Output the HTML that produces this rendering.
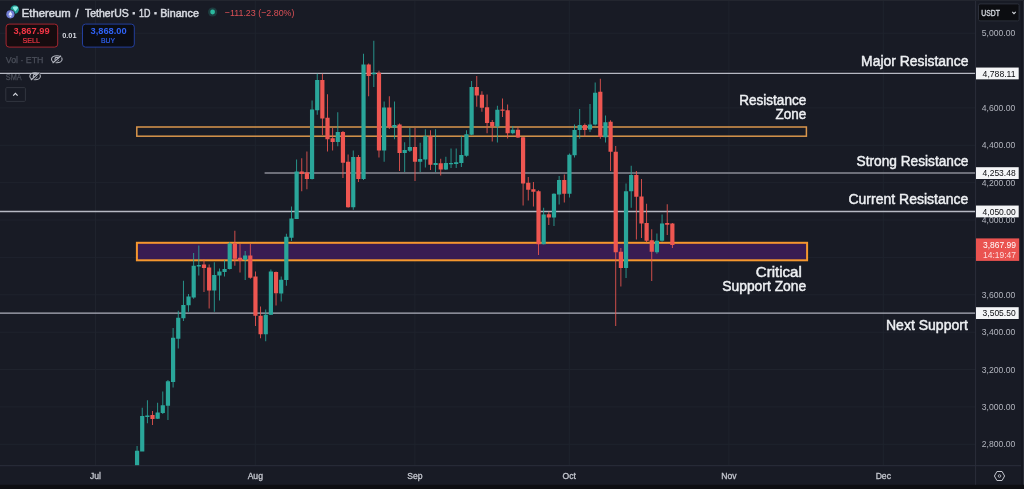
<!DOCTYPE html>
<html lang="en"><head><meta charset="utf-8"><title>Ethereum / TetherUS chart</title>
<style>
html,body{margin:0;padding:0;background:#181b25;}
body{width:1024px;height:489px;overflow:hidden;position:relative;font-family:"Liberation Sans",sans-serif;}
svg{position:absolute;left:0;top:0;display:block;}
text{font-family:"Liberation Sans",sans-serif;}
.grid path{stroke-width:1;fill:none;}
.g{fill:#2aa69a;}
.r{fill:#ee5651;}
.ax text{fill:#b2b5be;font-size:8.6px;}
.mo text{fill:#c4c7cf;font-size:8.6px;stroke:#c4c7cf;stroke-width:.3px;}
.ann text{fill:#eef0f3;font-size:14px;text-anchor:end;stroke:#eef0f3;stroke-width:.45px;}
.tag text{font-size:9.2px;fill:#0b0c10;}
</style></head>
<body>
<svg width="1024" height="489" viewBox="0 0 1024 489">
<rect width="1024" height="489" fill="#181b25"/>
<g class="grid"><path d="M0 33.2H975.6" stroke="#1f232d"/><path d="M0 70.6H975.6" stroke="#1f232d"/><path d="M0 107.9H975.6" stroke="#1f232d"/><path d="M0 145.3H975.6" stroke="#1f232d"/><path d="M0 182.7H975.6" stroke="#1f232d"/><path d="M0 220.1H975.6" stroke="#1f232d"/><path d="M0 257.4H975.6" stroke="#1f232d"/><path d="M0 294.8H975.6" stroke="#1f232d"/><path d="M0 332.2H975.6" stroke="#1f232d"/><path d="M0 369.5H975.6" stroke="#1f232d"/><path d="M0 406.9H975.6" stroke="#1f232d"/><path d="M0 444.3H975.6" stroke="#1f232d"/><path d="M95.5 0V465.7" stroke="#1f232d"/><path d="M255.3 0V465.7" stroke="#1f232d"/><path d="M414.9 0V465.7" stroke="#1f232d"/><path d="M569.3 0V465.7" stroke="#1f232d"/><path d="M728.9 0V465.7" stroke="#1f232d"/><path d="M883.3 0V465.7" stroke="#1f232d"/></g>

<!-- zones -->
<rect x="136.8" y="127" width="669.6" height="9.2" fill="none" stroke="#d9964c" stroke-width="1.5"/>
<rect x="136.9" y="242.8" width="670.2" height="17.5" fill="#381c52" stroke="#f5972e" stroke-width="2"/>

<!-- horizontal levels -->
<path d="M0 73.4H975.6" stroke="#b6b9c3" stroke-width="1.3"/>
<path d="M264.6 173.05H975.6" stroke="#8a8d96" stroke-width="1.4"/>
<path d="M0 211.5H975.6" stroke="#b6b9c3" stroke-width="1.3"/>
<path d="M0 313.15H975.6" stroke="#aeb1bc" stroke-width="1.3"/>

<g class="candles">
<path class="g" d="M136.64 446.0h0.85V465.7h-0.85zM134.97 450.8h4.2V465.7h-4.2z"/>
<path class="g" d="M141.79 407.8h0.85V451.4h-0.85zM140.12 416.0h4.2V451.4h-4.2z"/>
<path class="g" d="M146.94 400.3h0.85V423.2h-0.85zM145.26 415.4h4.2V417.0h-4.2z"/>
<path class="r" d="M152.09 411.0h0.85V425.0h-0.85zM150.41 415.0h4.2V419.0h-4.2z"/>
<path class="g" d="M157.23 402.7h0.85V419.0h-0.85zM155.56 412.5h4.2V418.7h-4.2z"/>
<path class="g" d="M162.38 391.5h0.85V414.0h-0.85zM160.70 405.2h4.2V413.0h-4.2z"/>
<path class="g" d="M167.53 380.0h0.85V420.0h-0.85zM165.85 381.2h4.2V405.8h-4.2z"/>
<path class="g" d="M172.67 328.0h0.85V387.4h-0.85zM171.00 337.8h4.2V381.9h-4.2z"/>
<path class="g" d="M177.82 310.7h0.85V348.5h-0.85zM176.15 317.8h4.2V338.7h-4.2z"/>
<path class="g" d="M182.97 280.7h0.85V320.9h-0.85zM181.29 304.9h4.2V318.2h-4.2z"/>
<path class="g" d="M188.11 293.9h0.85V311.7h-0.85zM186.44 296.4h4.2V305.3h-4.2z"/>
<path class="g" d="M193.26 253.1h0.85V298.8h-0.85zM191.59 265.8h4.2V297.4h-4.2z"/>
<path class="g" d="M198.41 245.4h0.85V275.6h-0.85zM196.73 265.0h4.2V266.6h-4.2z"/>
<path class="r" d="M203.56 259.3h0.85V292.0h-0.85zM201.88 264.4h4.2V268.0h-4.2z"/>
<path class="r" d="M208.70 264.4h0.85V308.6h-0.85zM207.03 267.4h4.2V290.5h-4.2z"/>
<path class="g" d="M213.85 262.3h0.85V311.7h-0.85zM212.17 275.0h4.2V290.5h-4.2z"/>
<path class="g" d="M219.00 268.5h0.85V300.4h-0.85zM217.32 271.5h4.2V275.6h-4.2z"/>
<path class="g" d="M224.14 260.3h0.85V276.6h-0.85zM222.47 269.0h4.2V272.0h-4.2z"/>
<path class="g" d="M229.29 242.0h0.85V269.5h-0.85zM227.62 243.5h4.2V269.0h-4.2z"/>
<path class="r" d="M234.44 230.7h0.85V265.8h-0.85zM232.76 243.5h4.2V258.7h-4.2z"/>
<path class="r" d="M239.58 244.0h0.85V272.6h-0.85zM237.91 257.8h4.2V260.7h-4.2z"/>
<path class="g" d="M244.73 251.0h0.85V280.0h-0.85zM243.06 255.6h4.2V259.7h-4.2z"/>
<path class="r" d="M249.88 244.0h0.85V278.7h-0.85zM248.20 255.6h4.2V277.7h-4.2z"/>
<path class="r" d="M255.03 271.5h0.85V326.0h-0.85zM253.35 276.6h4.2V315.8h-4.2z"/>
<path class="r" d="M260.17 306.6h0.85V338.2h-0.85zM258.50 315.8h4.2V334.2h-4.2z"/>
<path class="g" d="M265.32 309.6h0.85V341.3h-0.85zM263.64 314.7h4.2V334.2h-4.2z"/>
<path class="g" d="M270.47 269.5h0.85V315.0h-0.85zM268.79 271.5h4.2V314.7h-4.2z"/>
<path class="r" d="M275.61 271.5h0.85V305.5h-0.85zM273.94 272.0h4.2V293.3h-4.2z"/>
<path class="g" d="M280.76 276.6h0.85V301.5h-0.85zM279.08 279.7h4.2V293.6h-4.2z"/>
<path class="g" d="M285.91 233.7h0.85V285.8h-0.85zM284.23 236.8h4.2V280.1h-4.2z"/>
<path class="g" d="M291.05 206.5h0.85V240.9h-0.85zM289.38 218.4h4.2V237.8h-4.2z"/>
<path class="g" d="M296.20 159.6h0.85V219.0h-0.85zM294.53 171.5h4.2V218.9h-4.2z"/>
<path class="r" d="M301.35 158.2h0.85V191.3h-0.85zM299.67 171.5h4.2V174.0h-4.2z"/>
<path class="r" d="M306.49 151.5h0.85V189.3h-0.85zM304.82 172.5h4.2V179.0h-4.2z"/>
<path class="g" d="M311.64 100.4h0.85V179.5h-0.85zM309.97 109.6h4.2V179.0h-4.2z"/>
<path class="g" d="M316.79 73.8h0.85V114.7h-0.85zM315.11 80.0h4.2V110.2h-4.2z"/>
<path class="r" d="M321.94 73.8h0.85V135.1h-0.85zM320.26 80.0h4.2V118.4h-4.2z"/>
<path class="r" d="M327.08 94.3h0.85V151.5h-0.85zM325.41 117.8h4.2V139.2h-4.2z"/>
<path class="r" d="M332.23 128.0h0.85V150.4h-0.85zM330.55 138.2h4.2V141.9h-4.2z"/>
<path class="g" d="M337.38 112.3h0.85V146.3h-0.85zM335.70 132.1h4.2V141.9h-4.2z"/>
<path class="r" d="M342.52 131.0h0.85V178.0h-0.85zM340.85 132.1h4.2V162.7h-4.2z"/>
<path class="r" d="M347.67 154.5h0.85V207.7h-0.85zM346.00 161.7h4.2V207.3h-4.2z"/>
<path class="g" d="M352.82 150.4h0.85V209.7h-0.85zM351.14 157.0h4.2V207.3h-4.2z"/>
<path class="r" d="M357.96 155.0h0.85V182.1h-0.85zM356.29 157.0h4.2V179.0h-4.2z"/>
<path class="g" d="M363.11 53.8h0.85V180.0h-0.85zM361.44 64.6h4.2V179.0h-4.2z"/>
<path class="r" d="M368.26 63.6h0.85V96.3h-0.85zM366.58 64.6h4.2V75.9h-4.2z"/>
<path class="g" d="M373.41 40.7h0.85V87.1h-0.85zM371.73 72.8h4.2V74.2h-4.2z"/>
<path class="r" d="M378.55 70.8h0.85V157.6h-0.85zM376.88 72.8h4.2V150.4h-4.2z"/>
<path class="g" d="M383.70 101.4h0.85V161.7h-0.85zM382.02 107.6h4.2V150.4h-4.2z"/>
<path class="r" d="M388.85 96.3h0.85V129.0h-0.85zM387.17 107.6h4.2V127.0h-4.2z"/>
<path class="g" d="M393.99 101.4h0.85V139.2h-0.85zM392.32 125.0h4.2V127.4h-4.2z"/>
<path class="r" d="M399.14 123.5h0.85V170.9h-0.85zM397.47 124.5h4.2V152.9h-4.2z"/>
<path class="g" d="M404.29 142.3h0.85V171.9h-0.85zM402.61 150.0h4.2V152.9h-4.2z"/>
<path class="g" d="M409.44 128.0h0.85V152.0h-0.85zM407.76 147.0h4.2V150.8h-4.2z"/>
<path class="r" d="M414.58 128.0h0.85V181.1h-0.85zM412.91 147.0h4.2V161.7h-4.2z"/>
<path class="g" d="M419.73 142.7h0.85V171.9h-0.85zM418.05 159.0h4.2V161.7h-4.2z"/>
<path class="g" d="M424.88 129.2h0.85V167.5h-0.85zM423.20 136.2h4.2V159.4h-4.2z"/>
<path class="r" d="M430.02 130.2h0.85V170.0h-0.85zM428.35 136.2h4.2V164.8h-4.2z"/>
<path class="g" d="M435.17 129.2h0.85V172.0h-0.85zM433.50 162.9h4.2V164.9h-4.2z"/>
<path class="r" d="M440.32 158.8h0.85V175.4h-0.85zM438.64 163.3h4.2V169.6h-4.2z"/>
<path class="g" d="M445.46 156.8h0.85V170.0h-0.85zM443.79 162.9h4.2V169.6h-4.2z"/>
<path class="g" d="M450.61 148.6h0.85V168.0h-0.85zM448.94 162.9h4.2V164.3h-4.2z"/>
<path class="g" d="M455.76 148.6h0.85V168.0h-0.85zM454.08 162.3h4.2V163.9h-4.2z"/>
<path class="g" d="M460.90 136.3h0.85V167.0h-0.85zM459.23 155.1h4.2V162.9h-4.2z"/>
<path class="g" d="M466.05 130.2h0.85V156.8h-0.85zM464.38 134.3h4.2V155.7h-4.2z"/>
<path class="g" d="M471.20 81.1h0.85V135.3h-0.85zM469.52 86.9h4.2V134.7h-4.2z"/>
<path class="r" d="M476.35 76.0h0.85V106.7h-0.85zM474.67 86.9h4.2V95.4h-4.2z"/>
<path class="r" d="M481.49 91.3h0.85V111.8h-0.85zM479.82 94.8h4.2V107.7h-4.2z"/>
<path class="r" d="M486.64 94.4h0.85V133.2h-0.85zM484.96 107.3h4.2V123.0h-4.2z"/>
<path class="r" d="M491.79 120.0h0.85V141.4h-0.85zM490.11 122.0h4.2V126.5h-4.2z"/>
<path class="g" d="M496.93 105.7h0.85V142.4h-0.85zM495.26 109.7h4.2V126.5h-4.2z"/>
<path class="r" d="M502.08 98.5h0.85V116.9h-0.85zM500.41 109.6h4.2V110.8h-4.2z"/>
<path class="r" d="M507.23 104.6h0.85V138.4h-0.85zM505.55 110.2h4.2V133.2h-4.2z"/>
<path class="g" d="M512.38 126.0h0.85V134.3h-0.85zM510.70 129.8h4.2V133.2h-4.2z"/>
<path class="r" d="M517.52 127.0h0.85V138.0h-0.85zM515.85 129.8h4.2V137.5h-4.2z"/>
<path class="r" d="M522.67 137.0h0.85V205.6h-0.85zM520.99 137.3h4.2V183.5h-4.2z"/>
<path class="r" d="M527.82 177.0h0.85V200.5h-0.85zM526.14 182.7h4.2V189.7h-4.2z"/>
<path class="r" d="M532.96 182.1h0.85V206.6h-0.85zM531.29 189.3h4.2V191.7h-4.2z"/>
<path class="r" d="M538.11 190.3h0.85V255.1h-0.85zM536.43 191.3h4.2V244.2h-4.2z"/>
<path class="g" d="M543.26 207.8h0.85V244.5h-0.85zM541.58 214.5h4.2V244.2h-4.2z"/>
<path class="r" d="M548.40 211.8h0.85V225.0h-0.85zM546.73 214.2h4.2V217.4h-4.2z"/>
<path class="g" d="M553.55 193.3h0.85V226.0h-0.85zM551.88 193.8h4.2V217.4h-4.2z"/>
<path class="g" d="M558.70 176.0h0.85V204.6h-0.85zM557.02 180.0h4.2V194.4h-4.2z"/>
<path class="r" d="M563.85 174.6h0.85V202.6h-0.85zM562.17 180.0h4.2V193.8h-4.2z"/>
<path class="g" d="M568.99 153.5h0.85V197.4h-0.85zM567.32 154.7h4.2V193.8h-4.2z"/>
<path class="g" d="M574.14 124.4h0.85V157.6h-0.85zM572.46 129.9h4.2V155.2h-4.2z"/>
<path class="g" d="M579.29 109.0h0.85V138.7h-0.85zM577.61 125.0h4.2V129.9h-4.2z"/>
<path class="r" d="M584.43 123.4h0.85V136.6h-0.85zM582.76 125.0h4.2V129.9h-4.2z"/>
<path class="g" d="M589.58 103.9h0.85V131.9h-0.85zM587.90 124.4h4.2V129.5h-4.2z"/>
<path class="g" d="M594.73 82.5h0.85V125.4h-0.85zM593.05 92.7h4.2V124.4h-4.2z"/>
<path class="r" d="M599.87 78.8h0.85V138.7h-0.85zM598.20 91.7h4.2V137.0h-4.2z"/>
<path class="g" d="M605.02 115.6h0.85V142.6h-0.85zM603.35 122.3h4.2V137.2h-4.2z"/>
<path class="r" d="M610.17 120.3h0.85V170.9h-0.85zM608.49 121.7h4.2V151.8h-4.2z"/>
<path class="r" d="M615.32 146.0h0.85V326.0h-0.85zM613.64 151.8h4.2V252.2h-4.2z"/>
<path class="r" d="M620.46 248.0h0.85V286.6h-0.85zM618.79 251.7h4.2V268.0h-4.2z"/>
<path class="g" d="M625.61 183.5h0.85V278.0h-0.85zM623.93 191.3h4.2V268.0h-4.2z"/>
<path class="g" d="M630.76 165.8h0.85V207.8h-0.85zM629.08 175.0h4.2V191.3h-4.2z"/>
<path class="r" d="M635.90 170.9h0.85V239.4h-0.85zM634.23 175.0h4.2V196.7h-4.2z"/>
<path class="r" d="M641.05 179.0h0.85V238.0h-0.85zM639.38 196.4h4.2V223.6h-4.2z"/>
<path class="r" d="M646.20 203.8h0.85V242.2h-0.85zM644.52 222.9h4.2V240.8h-4.2z"/>
<path class="r" d="M651.34 229.3h0.85V280.9h-0.85zM649.67 240.2h4.2V251.7h-4.2z"/>
<path class="g" d="M656.49 233.6h0.85V253.7h-0.85zM654.82 240.8h4.2V252.2h-4.2z"/>
<path class="g" d="M661.64 214.5h0.85V241.8h-0.85zM659.96 223.6h4.2V240.8h-4.2z"/>
<path class="r" d="M666.78 204.2h0.85V235.0h-0.85zM665.11 223.0h4.2V224.8h-4.2z"/>
<path class="r" d="M671.93 223.0h0.85V248.0h-0.85zM670.26 223.6h4.2V245.1h-4.2z"/>
</g>

<!-- axes -->
<path d="M975.6 0V485.4M0 465.7H1024" stroke="#2a2e3a" stroke-width="1" fill="none"/>
<rect x="1021" y="0" width="2" height="489" fill="#151720"/><rect x="1023" y="0" width="1" height="489" fill="#2c2f39"/><rect x="0" y="0" width="1024" height="1" fill="#23262f"/>
<rect x="0" y="484.8" width="1024" height="4.2" fill="#0d0e12"/>
<g class="ax"><text x="981.8" y="36.3">5,000.00</text><text x="981.8" y="73.7">4,800.00</text><text x="981.8" y="111.0">4,600.00</text><text x="981.8" y="148.4">4,400.00</text><text x="981.8" y="185.8">4,200.00</text><text x="981.8" y="223.2">4,000.00</text><text x="981.8" y="297.9">3,600.00</text><text x="981.8" y="335.3">3,400.00</text><text x="981.8" y="372.6">3,200.00</text><text x="981.8" y="410.0">3,000.00</text><text x="981.8" y="447.4">2,800.00</text></g>
<g class="mo"><text x="95.5" y="478.8" text-anchor="middle">Jul</text><text x="255.3" y="478.8" text-anchor="middle">Aug</text><text x="414.9" y="478.8" text-anchor="middle">Sep</text><text x="569.3" y="478.8" text-anchor="middle">Oct</text><text x="728.9" y="478.8" text-anchor="middle">Nov</text><text x="883.3" y="478.8" text-anchor="middle">Dec</text></g>

<!-- price tags -->
<g class="tag">
<rect x="976" y="67.55" width="42.7" height="11.8" fill="#f4f5f7"/><text x="982.6" y="76.75" textLength="33" lengthAdjust="spacingAndGlyphs">4,788.11</text>
<rect x="976" y="167.20" width="42.7" height="11.8" fill="#f4f5f7"/><text x="982.6" y="176.40" textLength="33" lengthAdjust="spacingAndGlyphs">4,253.48</text>
<rect x="976" y="205.55" width="42.7" height="11.8" fill="#f4f5f7"/><text x="982.6" y="214.75" textLength="33" lengthAdjust="spacingAndGlyphs">4,050.00</text>
<rect x="976" y="307.20" width="42.7" height="11.8" fill="#f4f5f7"/><text x="982.6" y="316.40" textLength="33" lengthAdjust="spacingAndGlyphs">3,505.50</text>
<rect x="976" y="238.4" width="43.2" height="22.5" fill="#ea5350"/>
<text x="983" y="247.6" style="fill:#fff" textLength="33" lengthAdjust="spacingAndGlyphs">3,867.99</text>
<text x="983" y="257.7" style="fill:#fbdcdc" textLength="33" lengthAdjust="spacingAndGlyphs">14:19:47</text>
</g>

<!-- USDT selector -->
<rect x="978.5" y="3.9" width="40.6" height="17" rx="1.5" fill="#0c0d11" stroke="#2c303b" stroke-width="1"/>
<text x="981.3" y="15.6" font-size="8.2" fill="#d5d8df" stroke="#d5d8df" stroke-width=".35" textLength="18.6" lengthAdjust="spacingAndGlyphs">USDT</text>
<path d="M1012.3 11.9l1.7 1.7 1.7-1.7" stroke="#d5d8df" stroke-width="1.1" fill="none"/>

<!-- settings hexagon -->
<path d="M994.4 476l2.55-4.5h5.1l2.55 4.5-2.55 4.5h-5.1z" fill="none" stroke="#c4c7cf" stroke-width="1"/>
<circle cx="999.5" cy="476" r="1.3" fill="none" stroke="#c4c7cf" stroke-width=".8"/>

<!-- annotations -->
<g class="ann">
<text x="968.4" y="65.9" textLength="107.3" lengthAdjust="spacingAndGlyphs">Major Resistance</text>
<text x="806.3" y="104.8" textLength="67.1" lengthAdjust="spacingAndGlyphs">Resistance</text>
<text x="806.3" y="119.2" textLength="30.7" lengthAdjust="spacingAndGlyphs">Zone</text>
<text x="968.4" y="165.9" textLength="111.8" lengthAdjust="spacingAndGlyphs">Strong Resistance</text>
<text x="968.4" y="203.5" textLength="120" lengthAdjust="spacingAndGlyphs">Current Resistance</text>
<text x="801.8" y="276.8" textLength="46" lengthAdjust="spacingAndGlyphs">Critical</text>
<text x="806.3" y="290.9" textLength="84.1" lengthAdjust="spacingAndGlyphs">Support Zone</text>
<text x="967.8" y="329.5" textLength="81.8" lengthAdjust="spacingAndGlyphs">Next Support</text>
</g>

<!-- header -->
<circle cx="14.7" cy="9.5" r="4.2" fill="#1f9d93"/>
<path d="M12.6 7.8l1.2-1.3h3.2l1.2 1.3-2.8 3.6z" fill="#8ff0e6"/>
<circle cx="10.4" cy="14.3" r="4.8" fill="#181b25"/>
<circle cx="10.4" cy="14.3" r="4.1" fill="#6f7cd4"/>
<path d="M10.4 11.2l2 3.2-2 1.1-2-1.1zM8.4 15l2 1.1 2-1.1-2 2.5z" fill="#e4e8fc"/>
<g font-size="10.4" fill="#d6d9e0" stroke="#d6d9e0" stroke-width=".5">
<text x="21.8" y="16.6" textLength="48.8" lengthAdjust="spacingAndGlyphs">Ethereum</text>
<text x="75.6" y="16.6">/</text>
<text x="85" y="16.6" textLength="43.7" lengthAdjust="spacingAndGlyphs">TetherUS</text>
<text x="131.2" y="16.9" font-size="15" stroke-width=".8">·</text>
<text x="139.1" y="16.6" textLength="11.4" lengthAdjust="spacingAndGlyphs">1D</text>
<text x="152.9" y="16.9" font-size="15" stroke-width=".8">·</text>
<text x="160.2" y="16.6" textLength="38.7" lengthAdjust="spacingAndGlyphs">Binance</text>
</g>
<circle cx="212.6" cy="12" r="4.6" fill="#1d3c3f"/>
<circle cx="212.6" cy="12" r="2.4" fill="#2bb99f"/>
<text x="224.7" y="16.2" font-size="9.6" fill="#da5056" textLength="69.8" lengthAdjust="spacingAndGlyphs">−111.23 (−2.80%)</text>

<rect x="6.1" y="24.1" width="51.6" height="23" rx="3" fill="#160c0f" stroke="#a3262f" stroke-width="1"/>
<text x="13.4" y="34" font-size="9.2" font-weight="bold" fill="#f23645" textLength="36.2" lengthAdjust="spacingAndGlyphs">3,867.99</text>
<text x="22.5" y="43.4" font-size="7.8" fill="#f23645" stroke="#f23645" stroke-width=".2" textLength="17.4" lengthAdjust="spacingAndGlyphs">SELL</text>
<text x="69.4" y="38.1" font-size="7.4" font-weight="bold" fill="#d5d8df" text-anchor="middle">0.01</text>
<rect x="82.5" y="24.1" width="51.8" height="23" rx="3" fill="#0b0d14" stroke="#233f9c" stroke-width="1"/>
<text x="90.5" y="34" font-size="9.2" font-weight="bold" fill="#2f62f5" textLength="36.1" lengthAdjust="spacingAndGlyphs">3,868.00</text>
<text x="101" y="43.4" font-size="7.8" fill="#2f62f5" stroke="#2f62f5" stroke-width=".2" textLength="14" lengthAdjust="spacingAndGlyphs">BUY</text>

<text x="5.8" y="62.8" font-size="9.4" fill="#4c505b" stroke="#4c505b" stroke-width=".25" textLength="37.7" lengthAdjust="spacingAndGlyphs">Vol · ETH</text>
<g fill="none" stroke="#b4b7c0" stroke-width="1.1"><ellipse cx="56.8" cy="59.3" rx="5.3" ry="3.5"/><circle cx="56.8" cy="59.3" r="1.9"/><path d="M53.3 63.9l8.4-7.4" stroke="#181b25" stroke-width="1.2"/><path d="M52.6 63.1l8.4-7.4" stroke-width="1.2"/></g>
<text x="5.8" y="79.9" font-size="9.4" fill="#4c505b" stroke="#4c505b" stroke-width=".25" textLength="15.8" lengthAdjust="spacingAndGlyphs">SMA</text>
<g fill="none" stroke="#b4b7c0" stroke-width="1.1"><ellipse cx="35.1" cy="76.2" rx="5.3" ry="3.5"/><circle cx="35.1" cy="76.2" r="1.9"/><path d="M31.6 80.8l8.4-7.4" stroke="#181b25" stroke-width="1.2"/><path d="M30.9 80.0l8.4-7.4" stroke-width="1.2"/></g>
<rect x="5.8" y="87.6" width="19.6" height="13.8" rx="1" fill="none" stroke="#32363f" stroke-width="1"/>
<path d="M13.2 95.6l2.2-2.2 2.2 2.2" stroke="#d5d8df" stroke-width="1.2" fill="none"/>
</svg>
</body></html>
